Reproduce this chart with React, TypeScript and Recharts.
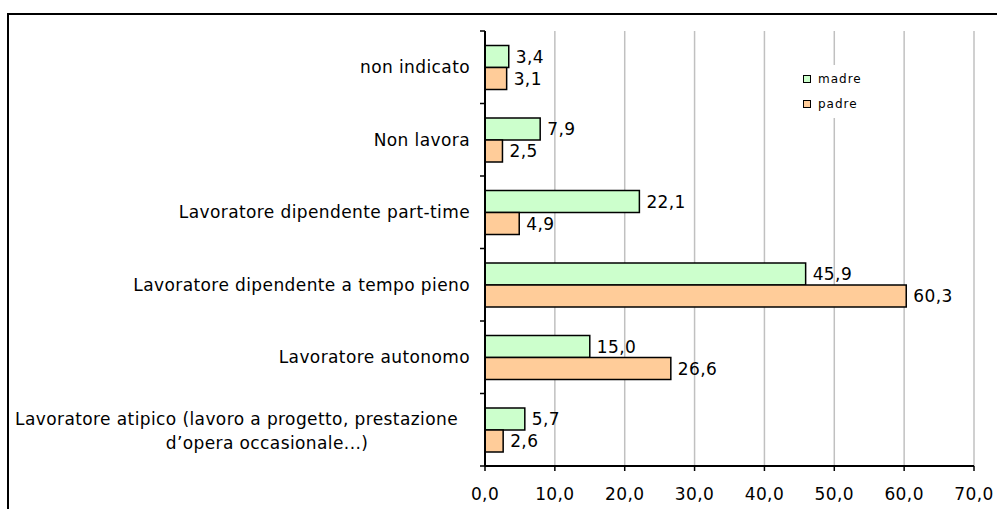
import React from "react";
import { Bar, BarChart, CartesianGrid, LabelList, XAxis, YAxis } from "recharts";

const categories = [
  "non indicato",
  "Non lavora",
  "Lavoratore dipendente part-time",
  "Lavoratore dipendente a tempo pieno",
  "Lavoratore autonomo",
  "Lavoratore atipico (lavoro a progetto, prestazione|d\u2019opera occasionale...)",
];
const madre = [3.4, 7.9, 22.1, 45.9, 15.0, 5.7];
const padre = [3.1, 2.5, 4.9, 60.3, 26.6, 2.6];
const xTicks = [0, 10, 20, 30, 40, 50, 60, 70];
const seriesNames = ["madre", "padre"];
const seriesColors = ["#CCFFCC", "#FFCC99"];

const data = categories.map((name, i) => ({ name, madre: madre[i], padre: padre[i] }));

const W = 997;
const H = 509;
const TOP = 31;
const BOTTOM = 43;
const AXIS_X = 485;
const BAND = (H - TOP - BOTTOM) / categories.length;
const FONT = "'DejaVu Sans', Verdana, sans-serif";
const TXT = { letterSpacing: 0.4, fontFamily: FONT };

const fmt = (v: number) => v.toFixed(1).replace(".", ",");

function CatTick(props: any) {
  const { y, payload, index } = props;
  const lines = String(payload.value).split("|");
  const top = y - BAND / 2;
  return (
    <g>
      <line x1={AXIS_X - 5} x2={AXIS_X} y1={top} y2={top} stroke="#000" strokeWidth={1.5} />
      {index === categories.length - 1 && (
        <line x1={AXIS_X - 5} x2={AXIS_X} y1={top + BAND} y2={top + BAND} stroke="#000" strokeWidth={1.5} />
      )}
      {lines.length === 1 ? (
        <text x={AXIS_X - 15} y={y} dy="0.35em" textAnchor="end" fill="#000" fontSize={17} style={TXT}>
          {lines[0]}
        </text>
      ) : (
        <>
          <text x={AXIS_X - 27} y={y - 11} dy="0.35em" textAnchor="end" fill="#000" fontSize={17} style={TXT}>
            {lines[0]}
          </text>
          <text x={AXIS_X - 218} y={y + 13} dy="0.35em" textAnchor="middle" fill="#000" fontSize={17} style={TXT}>
            {lines[1]}
          </text>
        </>
      )}
    </g>
  );
}

function LegendBox() {
  return (
    <div style={{ position: "absolute", left: 795, top: 65, width: 75, height: 53, background: "#fff" }}>
      {seriesNames.map((name, i) => (
        <div key={name} style={{ position: "absolute", left: 8, top: 7 + i * 25, display: "flex", alignItems: "center" }}>
          <span style={{ width: 6, height: 6, background: seriesColors[i], border: "1.5px solid #000", display: "inline-block" }} />
          <span style={{ marginLeft: 7, fontSize: 12, letterSpacing: 1, fontFamily: FONT, color: "#000", lineHeight: "14px" }}>{name}</span>
        </div>
      ))}
    </div>
  );
}

export default function App() {
  return (
    <div style={{ position: "absolute", left: 0, top: 0, width: W, height: H, overflow: "hidden", background: "#fff" }}>
      <div
        style={{
          position: "absolute",
          left: 7,
          top: 13,
          width: 1200,
          height: 800,
          borderTop: "2px solid #000",
          borderLeft: "2px solid #000",
        }}
      />
      <div style={{ position: "absolute", left: 0, top: 0 }}>
        <BarChart
          width={W}
          height={H}
          data={data}
          layout="vertical"
          margin={{ top: TOP, right: W - 974, left: 0, bottom: 0 }}
          barCategoryGap="20%"
          barGap={0}
        >
          <CartesianGrid horizontal={false} stroke="#c0c0c0" strokeWidth={1.5} />
          <XAxis
            type="number"
            domain={[0, 70]}
            ticks={xTicks}
            tickFormatter={fmt}
            height={BOTTOM}
            interval={0}
            axisLine={{ stroke: "#000", strokeWidth: 2 }}
            tickLine={{ stroke: "#000", strokeWidth: 1.5 }}
            tickSize={5}
            tickMargin={17}
            tick={{ fill: "#000", fontSize: 17, fontFamily: FONT, style: TXT }}
          />
          <XAxis xAxisId="top" orientation="top" type="number" domain={[0, 70]} height={0} tick={false} tickLine={false} axisLine={{ stroke: "#c0c0c0", strokeWidth: 1.5 }} />
          <YAxis
            type="category"
            dataKey="name"
            width={AXIS_X}
            interval={0}
            axisLine={{ stroke: "#000", strokeWidth: 2 }}
            tickLine={false}
            tick={(p: any) => <CatTick {...p} />}
          />
          <YAxis yAxisId="right" orientation="right" type="category" dataKey="name" width={0} tick={false} tickLine={false} axisLine={{ stroke: "#888", strokeWidth: 1.5 }} />
          <Bar dataKey="madre" fill={seriesColors[0]} stroke="#000" strokeWidth={1.5} isAnimationActive={false}>
            <LabelList dataKey="madre" position="right" offset={7} formatter={(v: any) => fmt(Number(v))} fill="#000" fontSize={17} style={TXT} />
          </Bar>
          <Bar dataKey="padre" fill={seriesColors[1]} stroke="#000" strokeWidth={1.5} isAnimationActive={false}>
            <LabelList dataKey="padre" position="right" offset={7} formatter={(v: any) => fmt(Number(v))} fill="#000" fontSize={17} style={TXT} />
          </Bar>
        </BarChart>
      </div>
      <LegendBox />
    </div>
  );
}
